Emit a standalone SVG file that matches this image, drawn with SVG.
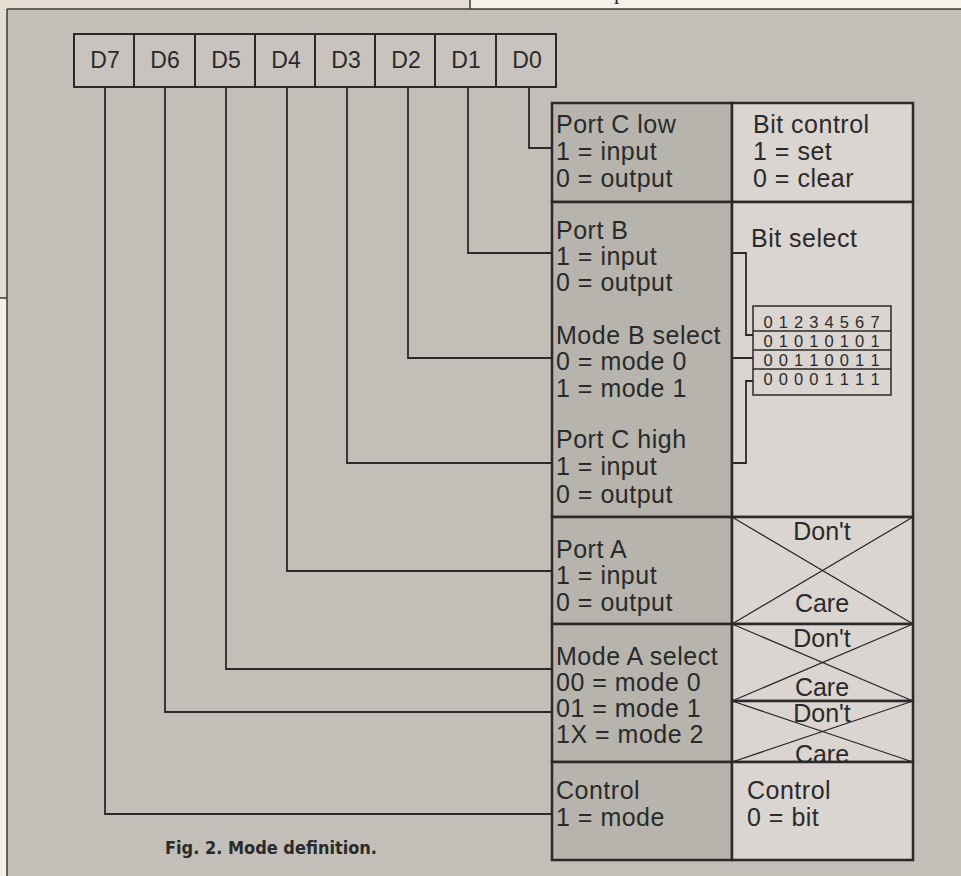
<svg xmlns="http://www.w3.org/2000/svg" width="961" height="876" viewBox="0 0 961 876">
<style>
  .t { font-family: "Liberation Sans", Arial, sans-serif; font-size: 25px; fill: #2a2a2a; letter-spacing: 0.5px; }
  .dl { font-family: "Liberation Sans", Arial, sans-serif; font-size: 23px; fill: #2a2a2a; text-anchor: middle; }
  .dc { font-family: "Liberation Sans", Arial, sans-serif; font-size: 25px; fill: #2a2a2a; text-anchor: middle; }
  .bits { font-family: "Liberation Sans", Arial, sans-serif; font-size: 16.5px; fill: #2a2a2a; text-anchor: middle; }
  .box { fill: #c8c3be; stroke: #2a2a2a; stroke-width: 2; }
  .lc { fill: #b6b4ad; stroke: #2a2a2a; stroke-width: 2.5; }
  .rc { fill: #dad5d1; stroke: #2a2a2a; stroke-width: 2.5; }
  .x { stroke: #2a2a2a; stroke-width: 1.3; fill: none; }
  .conn { stroke: #2a2a2a; stroke-width: 1.8; fill: none; }
  .frame { stroke: #3a3d34; stroke-width: 1.5; fill: none; }
</style>

<!-- page background / frame -->
<rect x="0" y="0" width="961" height="876" fill="#c4beb9"/>
<rect x="0" y="0" width="470" height="9" fill="#e4ded2"/>
<rect x="470" y="0" width="491" height="9" fill="#f4f1eb"/>
<rect x="0" y="0" width="7" height="298" fill="#e4ded2"/>
<rect x="0" y="298" width="7" height="578" fill="#f4f1eb"/>
<text x="614" y="-1" font-family="Liberation Serif, serif" font-size="22" fill="#2a2a2a">p</text>
<path class="frame" d="M7 9 H961 M7 9 V876 M470 0 V9 M0 298 H7"/>

<!-- bit boxes -->
<g id="D7"><rect class="box" x="74" y="34" width="60" height="53"/><text class="dl" x="105" y="68">D7</text></g>
<g id="D6"><rect class="box" x="134" y="34" width="61" height="53"/><text class="dl" x="165" y="68">D6</text></g>
<g id="D5"><rect class="box" x="195" y="34" width="60" height="53"/><text class="dl" x="226" y="68">D5</text></g>
<g id="D4"><rect class="box" x="255" y="34" width="60" height="53"/><text class="dl" x="286" y="68">D4</text></g>
<g id="D3"><rect class="box" x="315" y="34" width="60" height="53"/><text class="dl" x="346" y="68">D3</text></g>
<g id="D2"><rect class="box" x="375" y="34" width="60" height="53"/><text class="dl" x="406" y="68">D2</text></g>
<g id="D1"><rect class="box" x="435" y="34" width="61" height="53"/><text class="dl" x="466" y="68">D1</text></g>
<g id="D0"><rect class="box" x="496" y="34" width="60" height="53"/><text class="dl" x="527" y="68">D0</text></g>

<!-- connectors -->
<g id="connectors">
  <path class="conn" d="M105 87 V814 H552"/>
  <path class="conn" d="M165 87 V712 H552"/>
  <path class="conn" d="M226 87 V669 H552"/>
  <path class="conn" d="M287 87 V571 H552"/>
  <path class="conn" d="M347 87 V463 H552"/>
  <path class="conn" d="M408 87 V358 H552"/>
  <path class="conn" d="M468 87 V253 H552"/>
  <path class="conn" d="M529 87 V148 H552"/>
</g>

<!-- row 1 -->
<g id="port-c-low">
  <rect class="lc" x="552" y="103" width="180" height="99"/>
  <text class="t" x="556" y="133">Port C low</text>
  <text class="t" x="556" y="160">1 = input</text>
  <text class="t" x="556" y="187">0 = output</text>
</g>
<g id="bit-control">
  <rect class="rc" x="732" y="103" width="181" height="99"/>
  <text class="t" x="753" y="133">Bit control</text>
  <text class="t" x="753" y="160">1 = set</text>
  <text class="t" x="753" y="187">0 = clear</text>
</g>

<!-- row 2 -->
<g id="port-b-mode-b-port-c-high">
  <rect class="lc" x="552" y="202" width="180" height="315"/>
  <text class="t" x="556" y="239">Port B</text>
  <text class="t" x="556" y="265">1 = input</text>
  <text class="t" x="556" y="291">0 = output</text>
  <text class="t" x="556" y="344">Mode B select</text>
  <text class="t" x="556" y="370">0 = mode 0</text>
  <text class="t" x="556" y="397">1 = mode 1</text>
  <text class="t" x="556" y="448">Port C high</text>
  <text class="t" x="556" y="475">1 = input</text>
  <text class="t" x="556" y="503">0 = output</text>
</g>
<g id="bit-select">
  <rect class="rc" x="732" y="202" width="181" height="315"/>
  <text class="t" x="751" y="247">Bit select</text>
  <rect x="753" y="306" width="138" height="89" fill="none" stroke="#2a2a2a" stroke-width="1.5"/>
  <path d="M753 331 H891 M753 350 H891 M753 369 H891" stroke="#2a2a2a" stroke-width="1.5" fill="none"/>
  <text class="bits" x="768 783.3 798.6 813.9 829.1 844.4 859.7 875" y="328">01234567</text>
  <text class="bits" x="768 783.3 798.6 813.9 829.1 844.4 859.7 875" y="347">01010101</text>
  <text class="bits" x="768 783.3 798.6 813.9 829.1 844.4 859.7 875" y="366">00110011</text>
  <text class="bits" x="768 783.3 798.6 813.9 829.1 844.4 859.7 875" y="385">00001111</text>
  <path class="conn" d="M732 253 H746 V335 H753 M732 358 H753 M732 463 H746 V381 H753"/>
</g>

<!-- row 3 -->
<g id="port-a">
  <rect class="lc" x="552" y="517" width="180" height="107"/>
  <text class="t" x="556" y="558">Port A</text>
  <text class="t" x="556" y="584">1 = input</text>
  <text class="t" x="556" y="611">0 = output</text>
</g>
<g id="dont-care-1">
  <rect class="rc" x="732" y="517" width="181" height="107"/>
  <path class="x" d="M732 517 L913 624 M732 624 L913 517"/>
  <text class="dc" x="822" y="540">Don't</text>
  <text class="dc" x="822" y="612">Care</text>
</g>

<!-- row 4 -->
<g id="mode-a-select">
  <rect class="lc" x="552" y="624" width="180" height="138"/>
  <text class="t" x="556" y="665">Mode A select</text>
  <text class="t" x="556" y="691">00 = mode 0</text>
  <text class="t" x="556" y="717">01 = mode 1</text>
  <text class="t" x="556" y="743">1X = mode 2</text>
</g>
<g id="dont-care-2">
  <rect class="rc" x="732" y="624" width="181" height="77"/>
  <path class="x" d="M732 624 L913 701 M732 701 L913 624"/>
  <text class="dc" x="822" y="647">Don't</text>
  <text class="dc" x="822" y="696">Care</text>
</g>
<g id="dont-care-3">
  <rect class="rc" x="732" y="701" width="181" height="61"/>
  <path class="x" d="M732 701 L913 762 M732 762 L913 701"/>
  <text class="dc" x="822" y="722">Don't</text>
  <text class="dc" x="822" y="763">Care</text>
</g>

<!-- row 5 -->
<g id="control-mode">
  <rect class="lc" x="552" y="762" width="180" height="98"/>
  <text class="t" x="556" y="799">Control</text>
  <text class="t" x="556" y="826">1 = mode</text>
</g>
<g id="control-bit">
  <rect class="rc" x="732" y="762" width="181" height="98"/>
  <text class="t" x="747" y="799">Control</text>
  <text class="t" x="747" y="826">0 = bit</text>
</g>

<!-- caption -->
<text x="165" y="854" font-family="DejaVu Sans Condensed, DejaVu Sans, sans-serif" font-weight="bold" font-size="18" fill="#2a2a2a" textLength="212" lengthAdjust="spacingAndGlyphs">Fig. 2. Mode definition.</text>
</svg>
